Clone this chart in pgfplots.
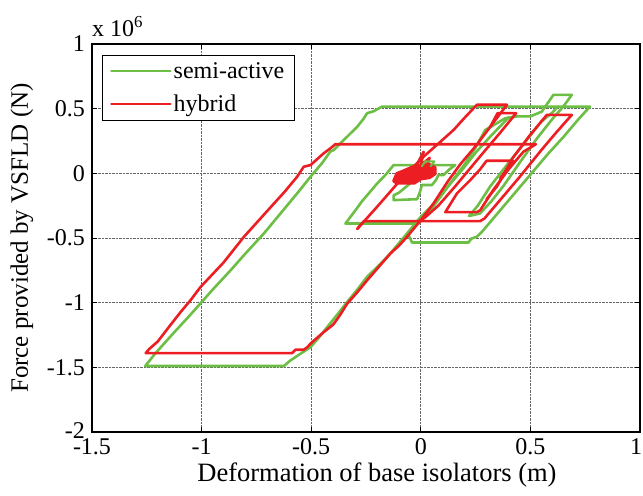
\documentclass[border=0pt]{standalone}
\usepackage{fontspec}
\setmainfont{Liberation Serif}
\usepackage{pgfplots}
\pgfplotsset{compat=1.18}
\definecolor{sagreen}{RGB}{108,190,69}
\definecolor{hyred}{RGB}{236,30,36}
\begin{document}
\begin{tikzpicture}[font=\fontsize{24}{28}\selectfont]
\begin{axis}[
  name=ax,
  scale only axis, width=548pt, height=388pt,
  xmin=-1.5, xmax=1, ymin=-2, ymax=1,
  xtick={-1.5,-1,-0.5,0,0.5,1},
  ytick={-2,-1.5,-1,-0.5,0,0.5,1},
  xticklabels={-1.5,-1,-0.5,0,0.5,\hspace*{-8pt}1},
  yticklabels={\raisebox{3pt}{-2},-1.5,-1,-0.5,0,0.5,1},
  tick align=inside, major tick length=5pt,
  tick style={black, line width=0.8pt},
  axis line style={black, line width=1.2pt},
  grid=major,
  major grid style={densely dotted, black!60, line width=0.7pt},
  tick label style={font=\fontsize{24}{28}\selectfont},
  xticklabel style={inner sep=1pt, yshift=-5pt},
  yticklabel style={inner sep=1pt, xshift=-6pt},
  xlabel={Deformation of base isolators (m)},
  ylabel={Force provided by VSFLD (N)},
  xlabel style={at={(axis description cs:0.52,-0.112)}, anchor=center, font=\fontsize{26.5}{30}\selectfont},
  ylabel style={at={(axis description cs:-0.1277,0.50)}, anchor=center, font=\fontsize{25}{30}\selectfont},
  legend style={at={(axis description cs:0.0177,0.9716)}, anchor=north west,
    draw=black, line width=0.8pt, fill=white, font=\fontsize{24}{28}\selectfont,
    inner xsep=8pt, inner ysep=5pt, row sep=11pt},
  legend cell align=left,
  legend image code/.code={\draw[#1] (0pt,0pt) -- (59pt,0pt);},
  every axis plot/.append style={line width=2.6pt, line join=round, line cap=round},
]
% ---------------- semi-active (green) ----------------
\addplot[sagreen] coordinates {
(-0.625,-1.49) (-1.257,-1.49) (-1.215,-1.40) (-1.172,-1.318) (-1.12,-1.22) (-1.06,-1.11) (-1.02,-1.034)
(-0.95,-0.90) (-0.868,-0.75) (-0.80,-0.62) (-0.716,-0.465) (-0.64,-0.31) (-0.564,-0.155) (-0.503,-0.026)
(-0.45,0.08) (-0.412,0.17) (-0.397,0.18) (-0.35,0.26) (-0.32,0.31) (-0.29,0.36) (-0.262,0.42) (-0.245,0.465)
(-0.215,0.48) (-0.177,0.516) (0.772,0.516) (0.72,0.42) (0.65,0.28) (0.58,0.15) (0.50,-0.01) (0.42,-0.17)
(0.34,-0.33) (0.28,-0.45) (0.256,-0.49) (0.23,-0.505) (0.218,-0.535) (-0.04,-0.535) (-0.055,-0.48)
};
\addlegendentry{semi-active}
\addplot[sagreen, forget plot] coordinates {
(-0.625,-1.49) (-0.595,-1.447) (-0.549,-1.395) (-0.503,-1.344) (-0.46,-1.26) (-0.427,-1.189) (-0.38,-1.09)
(-0.336,-0.995) (-0.29,-0.90) (-0.245,-0.80) (-0.19,-0.71) (-0.139,-0.62) (-0.10,-0.54) (-0.063,-0.465)
(0,-0.336) (0.04,-0.27) (0.074,-0.207) (0.11,-0.13) (0.16,-0.02) (0.20,0.07) (0.25,0.20) (0.294,0.336)
(0.33,0.37) (0.385,0.426) (0.438,0.44) (0.499,0.44) (0.552,0.477) (0.605,0.607) (0.689,0.607) (0.65,0.516)
(0.60,0.42) (0.53,0.27) (0.45,0.08) (0.376,-0.10) (0.32,-0.22) (0.27,-0.31) (0.22,-0.33) (0.26,-0.25)
(0.317,-0.10) (0.40,0.08) (0.48,0.25) (0.55,0.40) (0.60,0.47) (0.625,0.516)
};
\addplot[sagreen, forget plot] coordinates {
(0,0) (-0.05,-0.08) (-0.10,-0.15) (-0.124,-0.17) (-0.124,-0.207) (-0.017,-0.2) (-0.005,-0.15) (0.005,-0.09)
(0.051,-0.09) (0.07,-0.05) (0.08,-0.013) (0.104,-0.013) (0.13,0.03) (0.157,0.064) (-0.124,0.064)
(-0.16,-0.01) (-0.20,-0.08) (-0.27,-0.22) (-0.30,-0.29) (-0.344,-0.388) (-0.01,-0.388) (0.03,-0.31)
(0.06,-0.25) (0.125,-0.10) (0.19,0.03) (0.25,0.16) (0.32,0.29) (0.40,0.43) (0.438,0.44)
};
% ---------------- hybrid (red) ----------------
\addplot[hyred] coordinates {
(-0.29,-0.43) (-0.20,-0.26) (-0.093,-0.052) (-0.04,0.04) (0.013,0.129) (0.08,0.23) (0.15,0.336) (0.20,0.43)
(0.256,0.53) (0.393,0.53) (0.317,0.36) (0.25,0.21) (0.18,0.07) (0.12,-0.07) (0.058,-0.233) (0,-0.362)
(-0.063,-0.491) (-0.10,-0.56) (-0.139,-0.62) (-0.19,-0.72) (-0.245,-0.827) (-0.29,-0.92) (-0.336,-1.008)
(-0.37,-1.10) (-0.40,-1.17) (-0.443,-1.228) (-0.496,-1.305) (-0.518,-1.344) (-0.534,-1.364) (-0.572,-1.364)
(-0.587,-1.39) (-1.255,-1.39) (-1.24,-1.36) (-1.20,-1.30) (-1.15,-1.19) (-1.096,-1.073) (-1.05,-0.98)
(-1.005,-0.879) (-0.90,-0.69) (-0.807,-0.491) (-0.70,-0.29) (-0.62,-0.14) (-0.564,-0.026) (-0.534,0.051)
(-0.503,0.064) (-0.443,0.155) (-0.412,0.194) (-0.39,0.225) (0.525,0.225) (0.468,0.167) (0.40,0.03)
(0.33,-0.13) (0.271,-0.285) (0.256,-0.30) (0.112,-0.30) (0.165,-0.155) (0.226,-0.052) (0.27,0.03)
(0.30,0.097) (0.42,0.097) (0.362,-0.04) (0.423,0.09) (0.365,-0.03)
};
\addlegendentry{hybrid}
\addplot[hyred, forget plot] coordinates {
(0.317,0.36) (0.35,0.465) (0.435,0.465) (0.36,0.31) (0.28,0.15) (0.157,-0.10) (0.08,-0.25) (0.02,-0.34)
(-0.007,-0.37) (-0.26,-0.37) (-0.29,-0.43)
};
\addplot[hyred, forget plot] coordinates {
(-0.007,-0.37) (0.27,-0.37) (0.29,-0.35) (0.35,-0.23) (0.45,-0.03) (0.55,0.18) (0.62,0.32) (0.689,0.452)
(0.575,0.452) (0.50,0.30) (0.42,0.12) (0.348,-0.10) (0.30,-0.20)
};
\addplot[hyred, fill=hyred, forget plot] coordinates {
(-0.125,-0.06) (-0.11,-0.078) (-0.03,-0.078) (0.0,-0.045) (0.04,-0.035) (0.066,-0.005) (0.066,0.045)
(0.04,0.07) (0.0,0.065) (-0.04,0.05) (-0.08,0.02) (-0.11,0.0) (-0.125,-0.06)
};
\addplot[hyred, forget plot] coordinates {
(-0.03,0.03) (0.013,0.167) (0.0,0.06) (0.04,0.12) (0.03,0.06)
};
\addplot[sagreen, line width=2pt, forget plot] coordinates {
(0.005,0.055) (0.02,0.092) (0.062,0.092) (0.045,0.055)
};
\end{axis}
\node[anchor=base west, inner sep=0pt] at ([yshift=7pt]ax.north west) {x 10\textsuperscript{6}};
\pgfresetboundingbox
\useasboundingbox ([shift={(-92pt,-63pt)}]ax.south west) rectangle ([shift={(3pt,44pt)}]ax.north east);
\end{tikzpicture}
\end{document}
